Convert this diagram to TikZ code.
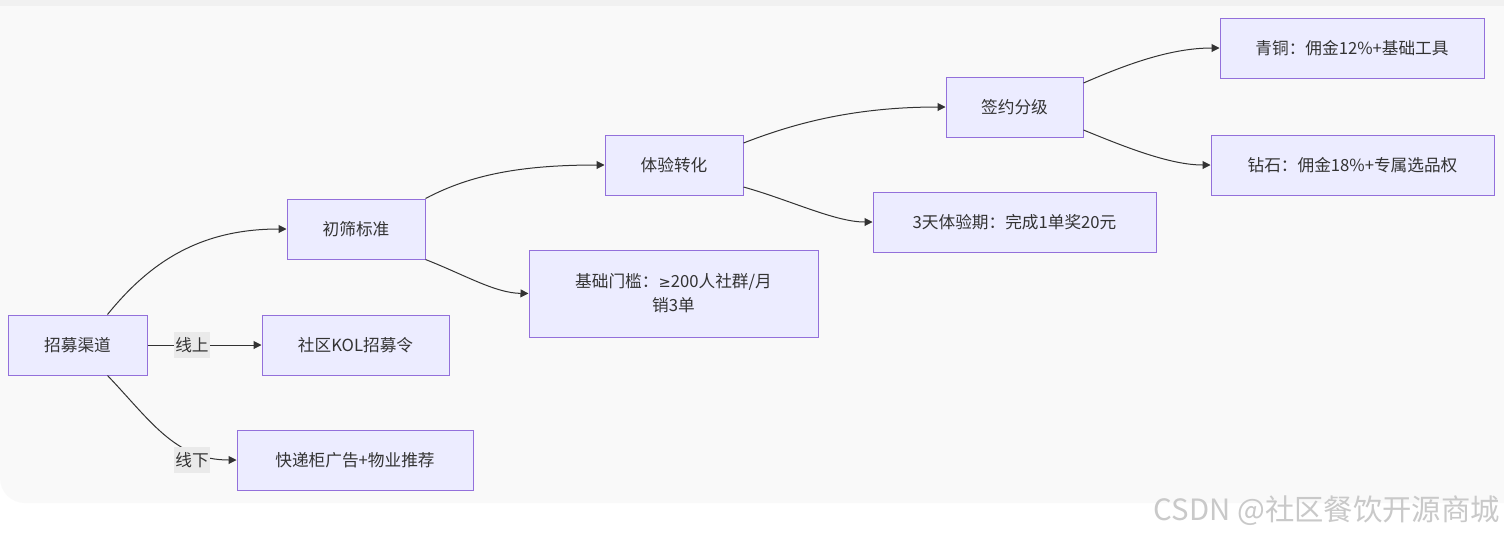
\documentclass[tikz,border=0pt]{standalone}
\usepackage{fontspec}
\setmainfont{Noto Sans CJK SC}
\newfontfamily\symf{DejaVu Sans}
\usetikzlibrary{calc,arrows.meta}
\definecolor{nodefill}{HTML}{ECECFF}
\definecolor{nodeborder}{HTML}{9370DB}
\definecolor{linkc}{HTML}{333333}
\definecolor{textc}{HTML}{333333}
\definecolor{lblfill}{HTML}{EAEAEA}
\definecolor{panel}{HTML}{F9F9F9}
\definecolor{topstrip}{HTML}{F1F1F1}
\definecolor{wm}{HTML}{C9C9C9}
\begin{document}
\begin{tikzpicture}[x=0.75pt,y=-0.75pt,
  box/.style={draw=nodeborder, fill=nodefill, line width=0.75pt, minimum height=45pt,
    inner sep=0pt, text=textc, font=\fontsize{12.5}{18}\selectfont, align=center},
  link/.style={draw=linkc, line width=0.75pt, -{Triangle[length=6pt,width=6pt]}},
  lbl/.style={fill=lblfill, inner sep=0pt, minimum width=27pt, minimum height=19.5pt,
    text=textc, font=\fontsize{12.5}{15}\selectfont}]
\useasboundingbox (0,0) rectangle (1504,536);
\fill[white] (0,0) rectangle (1504,536);
\fill[topstrip] (0,0) rectangle (1504,6);
\fill[panel] (0,6) -- (1504,6) -- (1504,503) -- (25,503) arc[start angle=90, end angle=180, radius=25] -- cycle;

\node[box, minimum width=139*0.75pt] (a) at (77.5,345) {招募渠道};
\node[box, minimum width=187*0.75pt] (kol) at (355.5,345) {社区KOL招募令};
\node[box, minimum width=236*0.75pt] (kd) at (355,460) {快递柜广告+物业推荐};
\node[box, minimum width=138*0.75pt] (b) at (356,229) {初筛标准};
\node[box, minimum width=289*0.75pt, minimum height=87*0.75pt] (d) at (673.5,293.5) {基础门槛：{\symf\fontsize{11}{18}\selectfont ≥}200人社群/月\\销3单};
\node[box, minimum width=138*0.75pt] (c) at (674,165) {体验转化};
\node[box, minimum width=283*0.75pt] (f) at (1014.5,222) {3天体验期：完成1单奖20元};
\node[box, minimum width=137*0.75pt] (e) at (1014.5,107) {签约分级};
\node[box, minimum width=264*0.75pt] (g) at (1352,48) {青铜：佣金12\%+基础工具};
\node[box, minimum width=283*0.75pt] (h) at (1352.5,165) {钻石：佣金18\%+专属选品权};

\draw[link] ($(a.north)+(30,0)$) .. controls (150,262) and (200,229) .. (b.west);
\draw[link] (a.east) -- (kol.west) node[lbl, pos=0.39] (l1) {线上};
\draw[link] ($(a.south)+(30,0)$) .. controls (150,420) and (175,460) .. (kd.west);
\node[lbl] (l2) at (192,460) {线下};
\draw[link] (b.north east) .. controls (470,175) and (520,165) .. (c.west);
\draw[link] (b.south east) .. controls (465,275) and (495,293) .. (d.west);
\draw[link] ($(c.east)+(0,-22)$) .. controls (790,125) and (850,107) .. (e.west);
\draw[link] ($(c.east)+(0,22)$) .. controls (790,200) and (835,222) .. (f.west);
\draw[link] ($(e.east)+(0,-24)$) .. controls (1125,65) and (1170,48) .. (g.west);
\draw[link] ($(e.east)+(0,23)$) .. controls (1125,147) and (1170,165) .. (h.west);

\node[text=wm, font=\fontsize{22}{26}\selectfont, anchor=east, inner sep=0pt] (wmk) at (1500,511) {CSDN @社区餐饮开源商城};
\end{tikzpicture}
\end{document}
